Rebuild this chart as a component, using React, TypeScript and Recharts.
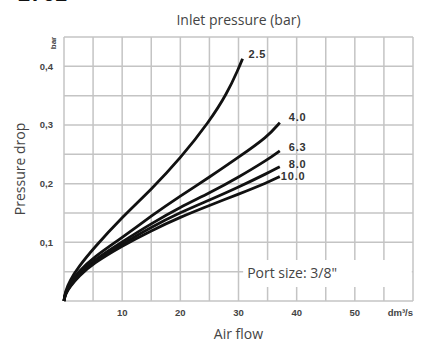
import {
  LineChart,
  Line,
  XAxis,
  YAxis,
  CartesianGrid,
  ReferenceArea,
  LabelList,
  Label,
} from "recharts";

// grid and tick values
const flowTicks = [0, 5, 10, 15, 20, 25, 30, 35, 40, 45, 50, 55, 60];
const flowLabels = [10, 20, 30, 40, 50];
const flowUnit = "dm³/s";
const dropTicks = [0, 0.05, 0.1, 0.15, 0.2, 0.25, 0.3, 0.35, 0.4, 0.45];
const dropLabels = [0.1, 0.2, 0.3, 0.4];
const dropUnit = "bar";

// inlet pressure curves (bar)
const pressureNames = ["2.5", "4.0", "6.3", "8.0", "10.0"];
const flow25 = [0, 0.2, 1, 2.5, 5, 10, 15, 20, 25, 28, 30, 30.7];
const drop25 = [0, 0.016, 0.035, 0.058, 0.089, 0.143, 0.19, 0.243, 0.306, 0.353, 0.396, 0.413];
const flowRest = [0, 0.2, 1, 2.5, 5, 10, 15, 20, 25, 30, 35, 37.1];
const drop40 = [0, 0.014, 0.03, 0.05, 0.074, 0.108, 0.145, 0.179, 0.211, 0.245, 0.28, 0.304];
const drop63 = [0, 0.013, 0.027, 0.046, 0.069, 0.101, 0.132, 0.16, 0.184, 0.211, 0.241, 0.256];
const drop80 = [0, 0.012, 0.025, 0.044, 0.066, 0.097, 0.126, 0.151, 0.172, 0.194, 0.218, 0.229];
const drop100 = [0, 0.011, 0.024, 0.042, 0.064, 0.094, 0.12, 0.143, 0.163, 0.182, 0.202, 0.212];

const toPoints = (flows: number[], drops: number[]) =>
  flows.map((f, i) => ({ flow: f, drop: drops[i] }));

const series = [
  { name: pressureNames[0], data: toPoints(flow25, drop25), dx: 6, dy: -5 },
  { name: pressureNames[1], data: toPoints(flowRest, drop40), dx: 9, dy: -6 },
  { name: pressureNames[2], data: toPoints(flowRest, drop63), dx: 9, dy: -4 },
  { name: pressureNames[3], data: toPoints(flowRest, drop80), dx: 9, dy: -3 },
  { name: pressureNames[4], data: toPoints(flowRest, drop100), dx: 1, dy: 0 },
];

const textFont = "'Open Sans', sans-serif";
const tickFont = "'Liberation Sans', Arial, sans-serif";

const FlowTick = (props: any) => {
  const { x, y, payload } = props;
  const v = payload.value;
  if (v === 60) {
    return (
      <text x={x} y={y} dy="0.71em" textAnchor="end" fontFamily={tickFont} fontSize={9.5} fontWeight="bold" fill="#444">
        {flowUnit}
      </text>
    );
  }
  if (!flowLabels.includes(v)) return null;
  return (
    <text x={x} y={y} dy="0.71em" textAnchor="middle" fontFamily={tickFont} fontSize={9.5} fontWeight="bold" fill="#444">
      {v}
    </text>
  );
};

const DropTick = (props: any) => {
  const { x, y, payload } = props;
  const v = payload.value;
  if (v === 0.45) {
    return (
      <text
        x={x - 3}
        y={y + 6}
        transform={`rotate(-90 ${x - 3} ${y + 6})`}
        textAnchor="middle"
        dy="0.35em"
        fontFamily={tickFont}
        fontSize={8}
        fontWeight="bold"
        fill="#444"
      >
        {dropUnit}
      </text>
    );
  }
  if (!dropLabels.includes(v)) return null;
  return (
    <text x={x - 3} y={y} dy="0.35em" textAnchor="end" fontFamily={tickFont} fontSize={9.5} fontWeight="bold" fill="#444">
      {v.toFixed(1).replace(".", ",")}
    </text>
  );
};

const endLabel = (text: string, last: number, dx: number, dy: number) => (props: any) => {
  if (props.index !== last) return null;
  const x = props.x ?? props.viewBox?.x;
  const y = props.y ?? props.viewBox?.y;
  return (
    <text x={x + dx} y={y + dy} dy="0.35em" fontFamily={tickFont} fontSize={11} fontWeight="bold" letterSpacing={0.8} fill="#333">
      {text}
    </text>
  );
};

const YTitle = (props: any) => {
  const vb = props.viewBox;
  const cx = 20;
  const cy = vb.y + vb.height / 2;
  return (
    <text x={cx} y={cy} transform={`rotate(-90 ${cx} ${cy})`} textAnchor="middle" dy="0.35em" fontFamily={textFont} fontSize={14} fill="#444">
      Pressure drop
    </text>
  );
};

export default function App() {
  return (
    <div style={{ position: "absolute", left: 0, top: 0, width: 422, height: 343, background: "#fff", overflow: "hidden" }}>
      <div style={{ position: "absolute", left: 18, top: -19, fontFamily: tickFont, fontSize: 22, fontWeight: "bold", color: "#111" }}>
        2761
      </div>
      <div
        style={{
          position: "absolute",
          left: 64,
          width: 349,
          top: 10,
          textAlign: "center",
          fontFamily: textFont,
          fontSize: 14,
          lineHeight: "19px",
          color: "#444",
        }}
      >
        Inlet pressure (bar)
      </div>
      <LineChart width={422} height={343} margin={{ top: 37, right: 9, bottom: 0, left: 0 }}>
        <CartesianGrid stroke="#c4c4c4" strokeWidth={1.5} />
        <XAxis
          dataKey="flow"
          type="number"
          domain={[0, 60]}
          ticks={flowTicks}
          height={42}
          axisLine={false}
          tickLine={false}
          tick={<FlowTick />}
          interval={0}
        >
          <Label value="Air flow" position="insideBottom" offset={4} fontFamily={textFont} fontSize={14} fill="#444" />
        </XAxis>
        <YAxis
          dataKey="drop"
          type="number"
          domain={[0, 0.45]}
          ticks={dropTicks}
          width={64}
          axisLine={false}
          tickLine={false}
          tick={<DropTick />}
          interval={0}
        >
          <Label content={<YTitle />} />
        </YAxis>
        <ReferenceArea
          x1={30.8}
          x2={59.8}
          y1={0.024}
          y2={0.07}
          fill="#fff"
          fillOpacity={1}
          stroke="none"
          ifOverflow="visible"
        >
          <Label value={'Port size: 3/8"'} position="insideLeft" offset={4} fontFamily={textFont} fontSize={14} fill="#444" />
        </ReferenceArea>
        {series.map((s) => (
          <Line
            key={s.name}
            data={s.data}
            dataKey="drop"
            type="basis"
            stroke="#111"
            strokeWidth={2.8}
            dot={false}
            activeDot={false}
            isAnimationActive={false}
          >
            <LabelList dataKey="drop" content={endLabel(s.name, s.data.length - 1, s.dx, s.dy)} />
          </Line>
        ))}
      </LineChart>
    </div>
  );
}
